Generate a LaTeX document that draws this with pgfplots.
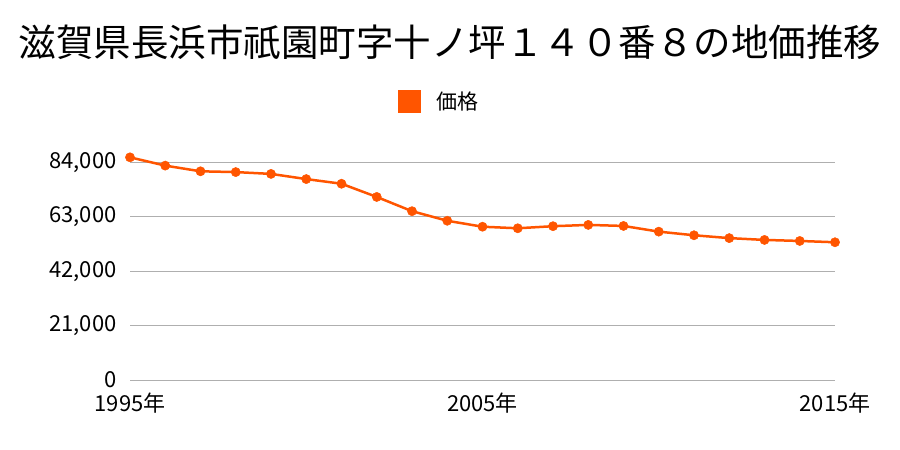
\documentclass[border=0pt]{standalone}
\usepackage{fontspec}
\setmainfont{Noto Sans CJK JP}
\usepackage{pgfplots}
\pgfplotsset{compat=1.18}
\definecolor{leg}{RGB}{255,85,0}
\definecolor{grd}{RGB}{175,175,175}
\begin{document}
\begin{tikzpicture}[x=1pt,y=1pt]
\useasboundingbox (0,0) rectangle (900,-450);
\node[font=\fontsize{37.5}{40}\selectfont, anchor=center] at (450,-42) {滋賀県長浜市祇園町字十ノ坪１４０番８の地価推移};
\begin{axis}[
  at={(130pt,-380pt)}, anchor=south west,
  scale only axis, width=705pt, height=217.5pt,
  xmin=1995, xmax=2015, ymin=0, ymax=84000,
  clip=false,
  axis line style={draw=none},
  major tick length=0pt,
  ytick={0,21000,42000,63000,84000},
  xtick={1995,2005,2015},
  xticklabels={1995年,2005年,2015年},
  ymajorgrids, grid style={grd, line width=1pt},
  scaled y ticks=false,
  /pgf/number format/assume math mode=true,
  yticklabel={\pgfmathprintnumber[fixed,1000 sep={,}]{\tick}},
  tick label style={font=\fontsize{22}{24}\selectfont},
  yticklabel style={xshift=-10pt},
  xticklabel style={yshift=-9pt},
  legend style={at={(axis description cs:0.5,1.0)}, anchor=south, yshift=50pt, xshift=-44pt, draw=none, fill=none,
    font=\fontsize{21}{24}\selectfont, legend cell align=left, inner sep=0pt,
    nodes={inner sep=0pt, text depth=0pt}},
]
\addlegendimage{legend image code/.code={\fill[leg] (0pt,-11pt) rectangle (22pt,11pt); \path (38pt,0pt);}}
\addlegendentry{価格}
\addplot[leg, line width=2.5pt, mark=*, mark size=4.6pt, mark options={solid, fill=leg, draw=leg, line width=0.5pt}, forget plot] coordinates {
(1995,86000) (1996,82800) (1997,80600) (1998,80300) (1999,79600)
(2000,77600) (2001,75800) (2002,70700) (2003,65200) (2004,61500)
(2005,59200) (2006,58600) (2007,59400) (2008,59900) (2009,59500)
(2010,57300) (2011,55900) (2012,54800) (2013,54100) (2014,53700)
(2015,53200)
};
\end{axis}
\end{tikzpicture}
\end{document}
